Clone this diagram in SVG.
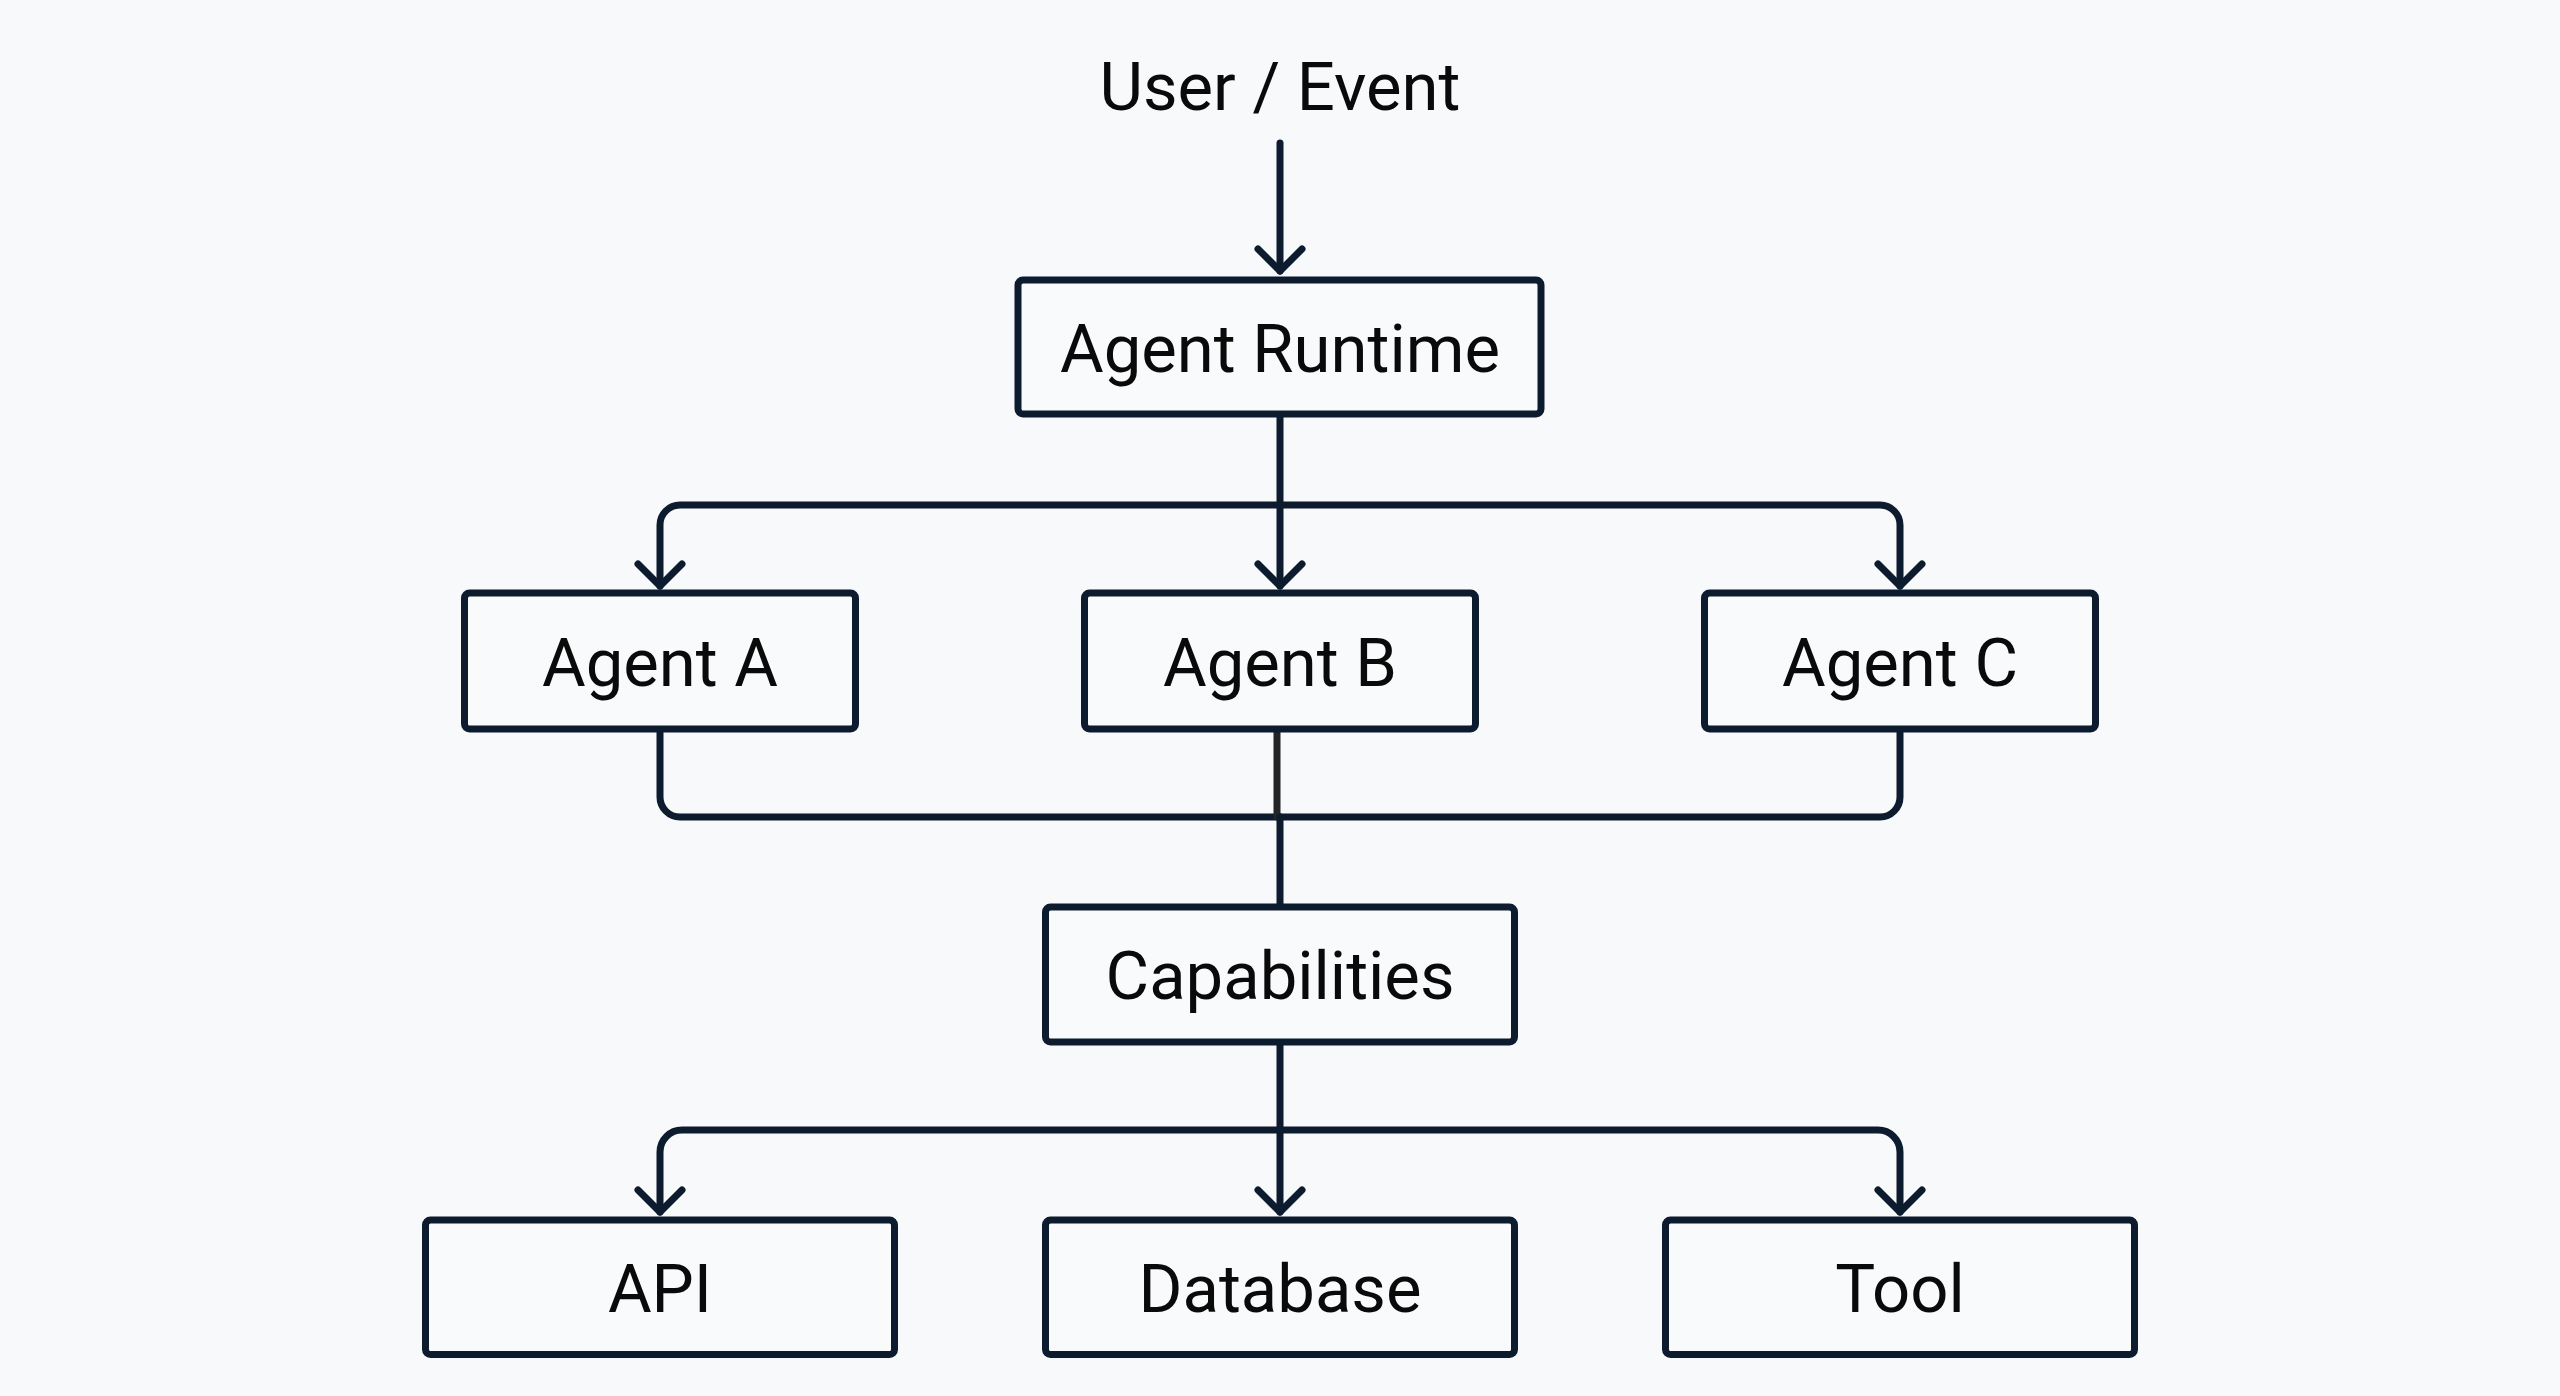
<svg xmlns="http://www.w3.org/2000/svg" width="2560" height="1396" viewBox="0 0 2560 1396">
<style>
.bg{fill:#f8f9fb}
.box{fill:#f9fafb;stroke:#0c1b2e;stroke-width:7}
.lbl{font-family:Roboto,"Liberation Sans",sans-serif;font-size:67px;fill:#0a0a0a;text-anchor:middle}
.con{fill:none;stroke:#0c1b2e;stroke-width:7;stroke-linecap:round;stroke-linejoin:round}
</style>
<defs>
<marker id="arr" markerUnits="userSpaceOnUse" markerWidth="60" markerHeight="60" refX="0" refY="0" orient="auto" overflow="visible">
<path d="M-22,-22 L0,0 L-22,22" fill="none" stroke="#0c1b2e" stroke-width="7" stroke-linecap="round" stroke-linejoin="round"/>
</marker>
</defs>
<rect class="bg" x="0" y="0" width="2560" height="1396"/>
<g id="connectors">
<path class="con" d="M1280,143 V271" marker-end="url(#arr)"/>
<path class="con" d="M1280,414 V586" marker-end="url(#arr)"/>
<path class="con" d="M1280,505 H680 A20,20 0 0 0 660,525 V586" marker-end="url(#arr)"/>
<path class="con" d="M1280,505 H1880 A20,20 0 0 1 1900,525 V586" marker-end="url(#arr)"/>
<path class="con" d="M660,729 V797 A20,20 0 0 0 680,817 H1280"/>
<path class="con" d="M1900,729 V797 A20,20 0 0 1 1880,817 H1280"/>
<path class="con" d="M1277,729 V817" style="stroke:#222426"/>
<path class="con" d="M1280,817 V907"/>
<path class="con" d="M1280,1042 V1212" marker-end="url(#arr)"/>
<path class="con" d="M1280,1130 H682 A22,22 0 0 0 660,1152 V1212" marker-end="url(#arr)"/>
<path class="con" d="M1280,1130 H1878 A22,22 0 0 1 1900,1152 V1212" marker-end="url(#arr)"/>
</g>
<g id="user-event">
<text class="lbl" x="1280" y="110">User / Event</text>
</g>
<g id="agent-runtime">
<rect class="box" x="1018" y="280" width="523" height="134" rx="5"/>
<text class="lbl" x="1280" y="372">Agent Runtime</text>
</g>
<g id="agent-a">
<rect class="box" x="464.5" y="593" width="391" height="136" rx="5"/>
<text class="lbl" x="660" y="686">Agent A</text>
</g>
<g id="agent-b">
<rect class="box" x="1084.5" y="593" width="391" height="136" rx="5"/>
<text class="lbl" x="1280" y="686">Agent B</text>
</g>
<g id="agent-c">
<rect class="box" x="1704.5" y="593" width="391" height="136" rx="5"/>
<text class="lbl" x="1900" y="686">Agent C</text>
</g>
<g id="capabilities">
<rect class="box" x="1045.5" y="907" width="469" height="135" rx="5"/>
<text class="lbl" x="1280" y="999">Capabilities</text>
</g>
<g id="api">
<rect class="box" x="425.5" y="1220" width="469" height="134.5" rx="5"/>
<text class="lbl" x="660" y="1312">API</text>
</g>
<g id="database">
<rect class="box" x="1045.5" y="1220" width="469" height="134.5" rx="5"/>
<text class="lbl" x="1280" y="1312">Database</text>
</g>
<g id="tool">
<rect class="box" x="1665.5" y="1220" width="469" height="134.5" rx="5"/>
<text class="lbl" x="1900" y="1312">Tool</text>
</g>
</svg>
